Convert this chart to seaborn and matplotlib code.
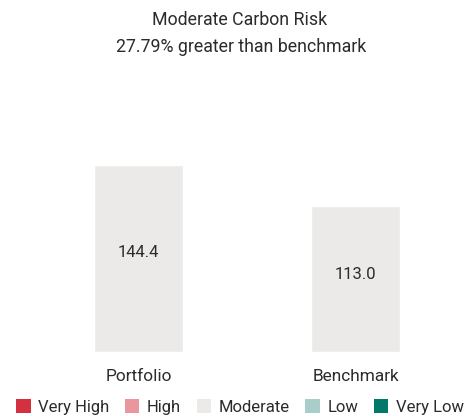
import matplotlib
matplotlib.use("Agg")
import matplotlib.pyplot as plt
import seaborn as sns
from matplotlib.patches import Patch

# Data
categories = ["Portfolio", "Benchmark"]
values = [144.4, 113.0]
risk_levels = ["Very High", "High", "Moderate", "Low", "Very Low"]
risk_colors = ["#d3313f", "#e9969c", "#ebeae8", "#a9cdc8", "#00786a"]
title_lines = ["Moderate Carbon Risk", "27.79% greater than benchmark"]

sns.set_style("white")
plt.rcParams["font.family"] = ["Roboto", "DejaVu Sans"]
text_color = "#2b2b2b"

fig = plt.figure(figsize=(4.67, 4.16), dpi=100)
W, H = 467, 416
px_per_unit = 1.295
base_px = 352
top_px = 100
ax = fig.add_axes([0, (H - base_px) / H, 1, (base_px - top_px) / H])

sns.barplot(x=categories, y=values, color=risk_colors[2], saturation=1,
            width=0.41, ax=ax)

for i, v in enumerate(values):
    ax.text(i, v * 0.53, f"{v:.1f}", ha="center", va="center",
            fontsize=12, color=text_color)

ax.set_xlim(-138.5 / 217, (W - 138.5) / 217)
ax.set_ylim(0, (base_px - top_px) / px_per_unit)
ax.set_yticks([])
ax.set_ylabel("")
ax.tick_params(axis="x", length=0, pad=12, labelsize=12.4, colors=text_color)
sns.despine(ax=ax, left=True, bottom=True)

fig.text(240 / W, 1 - 20 / H, title_lines[0], ha="center", va="center",
         fontsize=12.8, color=text_color)
fig.text(241 / W, 1 - 47 / H, title_lines[1], ha="center", va="center",
         fontsize=12.8, color=text_color)

handles = [Patch(facecolor=c, edgecolor="none", label=l)
           for l, c in zip(risk_levels, risk_colors)]
fig.legend(handles=handles, loc="center", bbox_to_anchor=(240 / W, 1 - 407 / H),
           ncol=5, frameon=False, fontsize=12, handlelength=0.85,
           handleheight=0.85, handletextpad=0.45, columnspacing=0.95,
           borderpad=0, labelcolor=text_color)

fig.savefig("out.png", dpi=100)
